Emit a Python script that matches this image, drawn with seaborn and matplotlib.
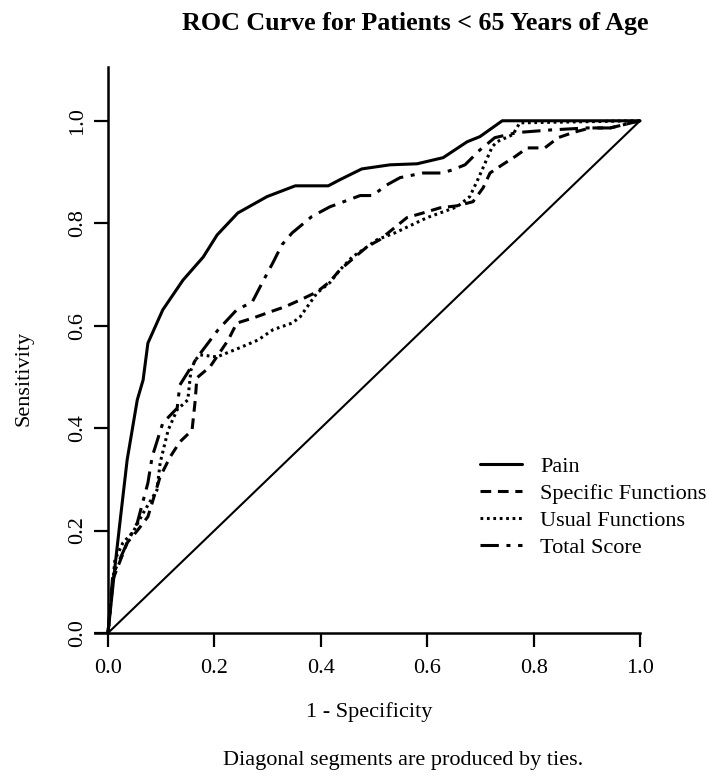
import matplotlib
matplotlib.use("Agg")
import matplotlib.pyplot as plt
import seaborn as sns

sns.set_theme(style="white")
plt.rcParams['font.family'] = ['Liberation Serif', 'DejaVu Serif']
plt.rcParams['text.color'] = 'black'
plt.rcParams['axes.labelcolor'] = 'black'
plt.rcParams['xtick.color'] = 'black'
plt.rcParams['ytick.color'] = 'black'

# ROC points (1 - specificity, sensitivity)
pain_fpr = [0.0, 0.013, 0.023, 0.036, 0.055, 0.066, 0.075, 0.103, 0.141, 0.179,
            0.205, 0.244, 0.299, 0.352, 0.414, 0.436, 0.477, 0.530, 0.581, 0.630,
            0.675, 0.699, 0.741, 1.0]
pain_tpr = [0.0, 0.129, 0.221, 0.338, 0.455, 0.494, 0.566, 0.631, 0.689, 0.734,
            0.777, 0.820, 0.852, 0.873, 0.873, 0.885, 0.906, 0.914, 0.916, 0.928,
            0.959, 0.969, 1.0, 1.0]

spec_fpr = [0.0, 0.009, 0.036, 0.056, 0.075, 0.098, 0.117, 0.135, 0.158, 0.164,
            0.167, 0.192, 0.226, 0.242, 0.273, 0.305, 0.333, 0.365, 0.393, 0.417,
            0.436, 0.464, 0.487, 0.511, 0.562, 0.592, 0.624, 0.656, 0.686, 0.705,
            0.718, 0.741, 0.765, 0.788, 0.821, 0.846, 0.874, 0.906, 0.944, 1.0]
spec_tpr = [0.0, 0.104, 0.176, 0.201, 0.227, 0.305, 0.344, 0.373, 0.396, 0.455,
            0.498, 0.520, 0.572, 0.605, 0.615, 0.627, 0.637, 0.652, 0.666, 0.686,
            0.709, 0.734, 0.754, 0.768, 0.811, 0.820, 0.830, 0.834, 0.842, 0.869,
            0.898, 0.914, 0.930, 0.947, 0.947, 0.967, 0.977, 0.986, 0.986, 1.0]

usual_fpr = [0.0, 0.013, 0.028, 0.047, 0.066, 0.092, 0.098, 0.113, 0.130, 0.150,
             0.156, 0.164, 0.173, 0.205, 0.248, 0.282, 0.310, 0.346, 0.361, 0.393,
             0.417, 0.436, 0.459, 0.479, 0.506, 0.539, 0.600, 0.656, 0.680, 0.695,
             0.709, 0.722, 0.731, 0.761, 0.774, 1.0]
usual_tpr = [0.0, 0.143, 0.176, 0.197, 0.234, 0.279, 0.332, 0.396, 0.436, 0.455,
             0.514, 0.533, 0.543, 0.539, 0.557, 0.572, 0.592, 0.605, 0.617, 0.664,
             0.684, 0.709, 0.734, 0.748, 0.768, 0.781, 0.811, 0.832, 0.852, 0.885,
             0.918, 0.949, 0.959, 0.973, 0.996, 1.0]

total_fpr = [0.0, 0.009, 0.036, 0.055, 0.075, 0.083, 0.103, 0.130, 0.135, 0.167,
             0.207, 0.242, 0.271, 0.291, 0.310, 0.327, 0.346, 0.383, 0.417, 0.474,
             0.498, 0.521, 0.549, 0.592, 0.628, 0.647, 0.671, 0.699, 0.727, 0.769,
             0.831, 0.900, 0.944, 1.0]
total_tpr = [0.0, 0.113, 0.176, 0.215, 0.293, 0.344, 0.410, 0.439, 0.484, 0.537,
             0.592, 0.631, 0.646, 0.686, 0.723, 0.758, 0.781, 0.813, 0.832, 0.854,
             0.854, 0.873, 0.889, 0.898, 0.898, 0.904, 0.914, 0.943, 0.967, 0.977,
             0.982, 0.986, 0.986, 1.0]

fig = plt.figure(figsize=(7.07, 7.78), dpi=100)
ax = fig.add_axes([0.1344, 0.1864, 0.7709, 0.7275])

lw = 2.2
sns.lineplot(x=pain_fpr, y=pain_tpr, sort=False, estimator=None, ax=ax,
             color="black", linewidth=lw, label="Pain", clip_on=False)
sns.lineplot(x=spec_fpr, y=spec_tpr, sort=False, estimator=None, ax=ax,
             color="black", linewidth=lw, dashes=(3.5, 2.2), label="Specific Functions", clip_on=False)
sns.lineplot(x=usual_fpr, y=usual_tpr, sort=False, estimator=None, ax=ax,
             color="black", linewidth=lw, dashes=(0.9, 1.2), label="Usual Functions", clip_on=False)
sns.lineplot(x=total_fpr, y=total_tpr, sort=False, estimator=None, ax=ax,
             color="black", linewidth=lw, dashes=(6, 2.5, 1.3, 2.5), label="Total Score", clip_on=False)
ax.plot([0, 1], [0, 1], color="black", linewidth=1.5, clip_on=False)

ax.set_xlim(-0.0244, 1.0)
ax.set_ylim(0, 1.105)
ax.spines['top'].set_visible(False)
ax.spines['right'].set_visible(False)
ax.spines['left'].set_position(('data', 0))
for s in ['left', 'bottom']:
    ax.spines[s].set_linewidth(1.8)
    ax.spines[s].set_color("black")

ticks = [0.0, 0.2, 0.4, 0.6, 0.8, 1.0]
ax.set_xticks(ticks)
ax.set_yticks(ticks)
ax.set_xticklabels([f"{t:.1f}" for t in ticks])
ax.set_yticklabels([f"{t:.1f}" for t in ticks], rotation=90, va="center")
ax.tick_params(direction="out", length=10, width=1.6, labelsize=16, pad=5,
               colors="black", left=True, bottom=True)
ax.tick_params(axis="x", pad=9)

ax.set_xlabel("1 - Specificity", fontsize=16)
ax.xaxis.set_label_coords(0.503, -0.14)
ax.xaxis.label.set_va("center")
ax.set_ylabel("Sensitivity", fontsize=16)
ax.yaxis.set_label_coords(-0.13, 0.45)
ax.yaxis.label.set_va("center")

ax.legend(loc="upper left", bbox_to_anchor=(480 / 707, 1 - 456 / 778),
          bbox_transform=fig.transFigure, frameon=False, fontsize=16,
          handlelength=1.9, handletextpad=0.8, labelspacing=0.3,
          borderpad=0, borderaxespad=0)

fig.text(0.587, 0.970, "ROC Curve for Patients < 65 Years of Age",
         ha="center", va="center", fontsize=18.7, fontweight="bold")
fig.text(0.570, 0.023, "Diagonal segments are produced by ties.",
         ha="center", va="center", fontsize=16)

fig.savefig("out.png", dpi=100)
